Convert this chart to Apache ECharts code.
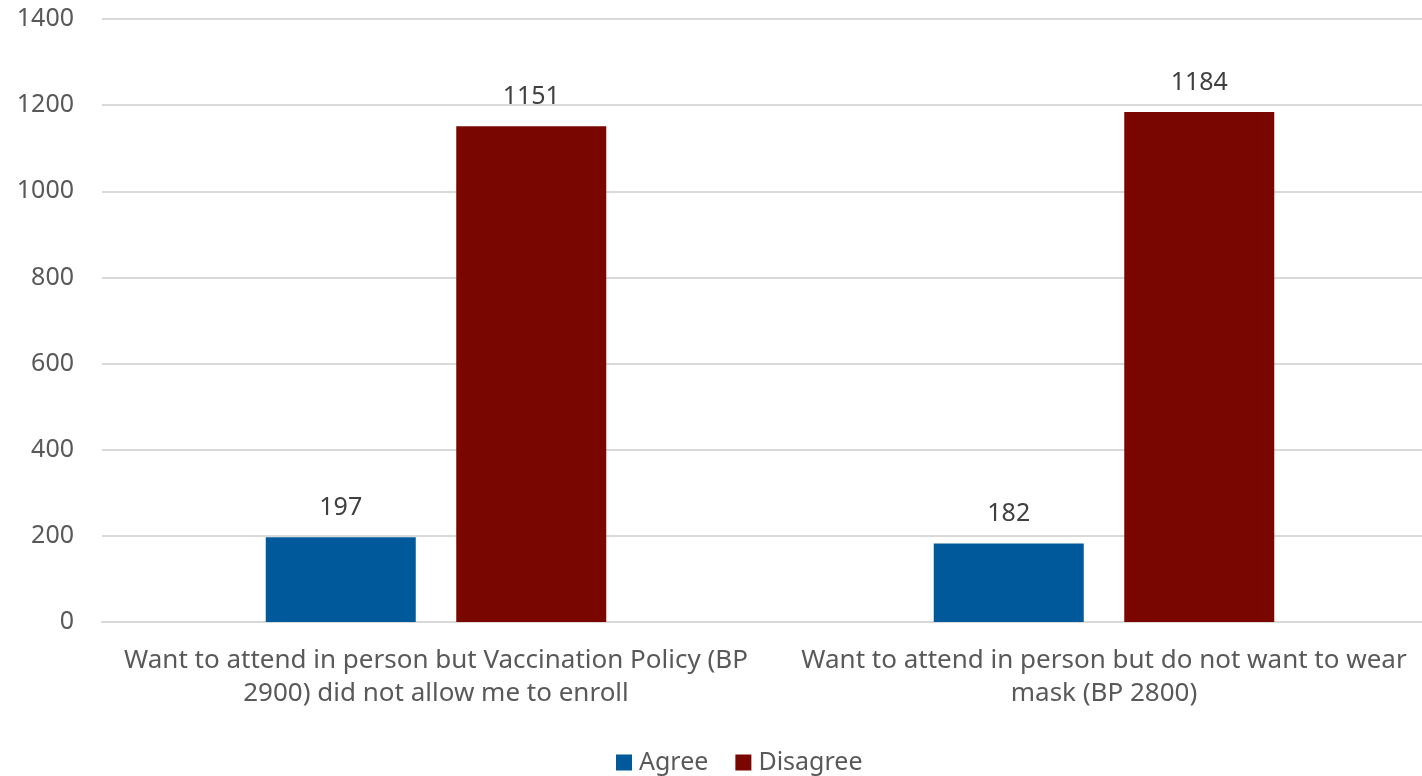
<!DOCTYPE html>
<html>
<head>
<meta charset="utf-8">
<script src="https://cdn.jsdelivr.net/npm/echarts@6/dist/echarts.min.js"></script>
<style>html,body{margin:0;padding:0;background:#fff;overflow:hidden;width:1422px;height:776px;}#chart{width:1438px;height:776px;}</style>
</head>
<body>
<div id="chart"></div>
<script>
const categories = [
  "Want to attend in person but Vaccination Policy (BP\n2900) did not allow me to enroll",
  "Want to attend in person but do not want to wear\nmask (BP 2800)"
];
const seriesNames = ["Agree", "Disagree"];
const agreeValues = [197, 182];
const disagreeValues = [1151, 1184];
const yTicks = [0, 200, 400, 600, 800, 1000, 1200, 1400];

const FONT = "Noto Sans";
const FS = 25;
const chart = echarts.init(document.getElementById('chart'));
chart.setOption({
  animation: false,
  textStyle: { fontFamily: FONT },
  grid: { left: 102, right: 0, top: 19, bottom: 154, containLabel: false },
  legend: {
    bottom: -4, left: 611, itemWidth: 16, itemHeight: 16, itemGap: 27,
    icon: 'rect',
    textStyle: { fontFamily: FONT, fontSize: FS, color: '#595959', padding: [0,0,0,2] },
    data: seriesNames
  },
  xAxis: {
    type: 'category', data: categories,
    axisLine: { show: true, lineStyle: { color: '#d9d9d9', width: 2 } },
    axisTick: { show: false },
    axisLabel: { fontFamily: FONT, fontSize: 26, color: '#595959', lineHeight: 33, margin: 22, interval: 0 }
  },
  yAxis: {
    type: 'value', min: yTicks[0], max: yTicks[yTicks.length-1], interval: 200,
    axisLine: { show: false }, axisTick: { show: false },
    splitLine: { lineStyle: { color: '#d9d9d9', width: 2 } },
    axisLabel: { fontFamily: FONT, fontSize: FS, color: '#595959', margin: 28, formatter: v => String(v) }
  },
  series: [
    { name: seriesNames[0], type: 'bar', data: agreeValues, barWidth: 150, barGap: '27%',
      itemStyle: { color: '#00599a' },
      label: { show: true, position: 'top', distance: 17, fontFamily: FONT, fontSize: FS, color: '#404040' } },
    { name: seriesNames[1], type: 'bar', data: disagreeValues, barWidth: 150,
      itemStyle: { color: '#7a0600' },
      label: { show: true, position: 'top', distance: 17, fontFamily: FONT, fontSize: FS, color: '#404040' } }
  ]
});
</script>
</body>
</html>
